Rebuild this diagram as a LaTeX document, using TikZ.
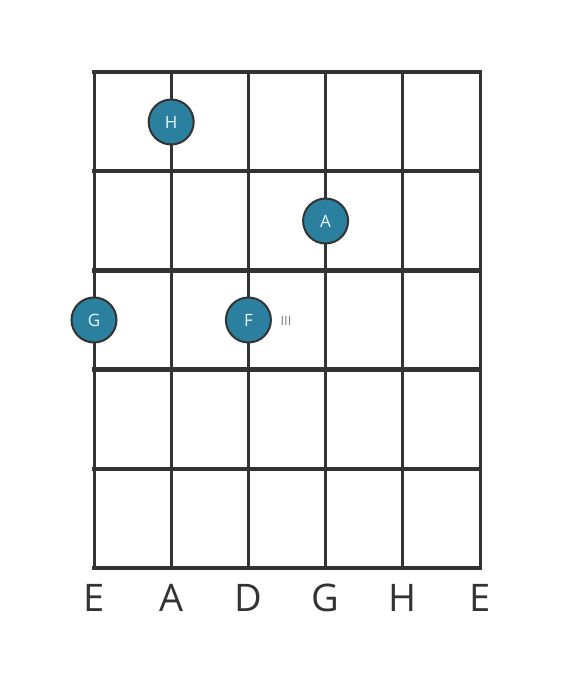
\documentclass[tikz,border=0pt]{standalone}
\usepackage{fontspec}
\setmainfont{Open Sans}
\usepackage{tikz}
\usetikzlibrary{calc}
\definecolor{gridgray}{HTML}{333333}
\definecolor{dotblue}{HTML}{2A809E}
\definecolor{dottext}{HTML}{EEF8FB}
\tikzset{
  fingerdot/.style={circle, fill=dotblue, draw=gridgray, line width=2pt, minimum size=45pt, inner sep=0pt, text=dottext, font=\fontsize{17}{17}\selectfont},
  stringname/.style={text=gridgray, font=\fontsize{38}{38}\selectfont}
}
\begin{document}
\begin{tikzpicture}[x=1pt, y=-1pt]
\useasboundingbox (0,0) rectangle (560,682);
% strings
\foreach \i in {0,...,5} \draw[gridgray, line width=3pt] (94+77.2*\i,72)--(94+77.2*\i,568);
% frets
\foreach \j in {0,...,5} \draw[gridgray, line width=4.5pt, line cap=rect] (94,72+99.2*\j)--(480,72+99.2*\j);
% string names
\foreach \n [count=\k from 0] in {E,A,D,G,H,E}
  \path (94+77.2*\k,598) node[stringname] (s\k) {\n};
% dots
\node[fingerdot] (dotH) at (171.2,122) {H};
\node[fingerdot] (dotA) at (325.6,221) {A};
\node[fingerdot] (dotG) at (94,320) {G};
\node[fingerdot] (dotF) at (248.4,320) {F};
\node[text=gray, font=\fontsize{13}{13}\selectfont, anchor=west] (fretnum) at (277,321) {III};
\end{tikzpicture}
\end{document}
